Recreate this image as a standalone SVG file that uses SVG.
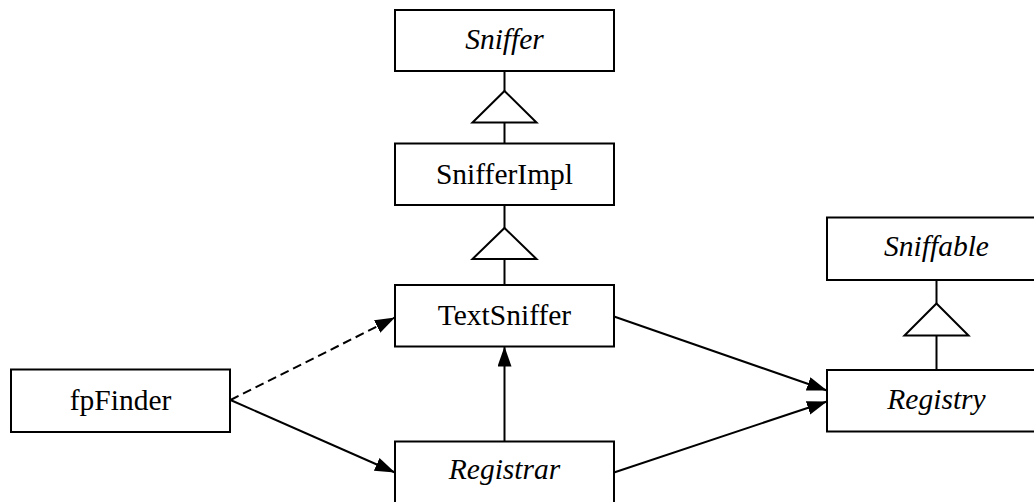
<svg xmlns="http://www.w3.org/2000/svg" width="1034" height="502" viewBox="0 0 1034 502">
  <style>
    .box { fill: #ffffff; stroke: #000000; stroke-width: 2; }
    .lbl { font-family: "Liberation Serif", "Times New Roman", serif; font-size: 29.5px; fill: #000000; text-anchor: middle; }
    .abs { font-style: italic; }
    .edge { fill: none; stroke: #000000; stroke-width: 2; }
    .dash { stroke-dasharray: 9 5; }
    .gen { fill: #ffffff; stroke: #000000; stroke-width: 2; stroke-linejoin: miter; }
  </style>
  <defs>
    <marker id="arrow" markerUnits="userSpaceOnUse" markerWidth="22" markerHeight="16" refX="20" refY="7" orient="auto">
      <path d="M0,0 L20,7 L0,14 Z" fill="#000000"/>
    </marker>
  </defs>

  <rect width="1034" height="502" fill="#ffffff"/>

  <!-- connectors -->
  <g id="connectors">
    <!-- generalisation: SnifferImpl -> Sniffer -->
    <line class="edge" x1="504.5" y1="71" x2="504.5" y2="91"/>
    <line class="edge" x1="504.5" y1="122.5" x2="504.5" y2="143.5"/>
    <polygon class="gen" points="504.5,91 536.5,122.5 472.5,122.5"/>
    <!-- generalisation: TextSniffer -> SnifferImpl -->
    <line class="edge" x1="504.5" y1="205" x2="504.5" y2="228"/>
    <line class="edge" x1="504.5" y1="259" x2="504.5" y2="285"/>
    <polygon class="gen" points="504.5,228 536.5,259 472.5,259"/>
    <!-- generalisation: Registry -> Sniffable -->
    <line class="edge" x1="936.5" y1="280" x2="936.5" y2="303.5"/>
    <line class="edge" x1="936.5" y1="335.5" x2="936.5" y2="370"/>
    <polygon class="gen" points="936.5,303.5 968.5,335.5 904.5,335.5"/>
    <!-- associations -->
    <line class="edge dash" x1="230.5" y1="400" x2="395" y2="317.5" marker-end="url(#arrow)"/>
    <line class="edge" x1="230.5" y1="400" x2="395" y2="472.5" marker-end="url(#arrow)"/>
    <line class="edge" x1="504.5" y1="441.5" x2="504.5" y2="346.5" marker-end="url(#arrow)"/>
    <line class="edge" x1="614" y1="316.5" x2="827" y2="390.5" marker-end="url(#arrow)"/>
    <line class="edge" x1="614" y1="472.5" x2="827" y2="401.5" marker-end="url(#arrow)"/>
  </g>

  <g id="node-sniffer">
    <rect class="box" x="395" y="10" width="219" height="61"/>
    <text class="lbl abs" x="504.5" y="49">Sniffer</text>
  </g>
  <g id="node-snifferimpl">
    <rect class="box" x="395" y="143.5" width="219" height="61.5"/>
    <text class="lbl" x="504.5" y="183.5">SnifferImpl</text>
  </g>
  <g id="node-textsniffer">
    <rect class="box" x="395" y="285" width="219" height="61.5"/>
    <text class="lbl" x="504.5" y="325">TextSniffer</text>
  </g>
  <g id="node-registrar">
    <rect class="box" x="395" y="441.5" width="219" height="62"/>
    <text class="lbl abs" x="504.5" y="479">Registrar</text>
  </g>
  <g id="node-fpfinder">
    <rect class="box" x="11" y="369.5" width="219" height="62.5"/>
    <text class="lbl" x="120.5" y="409.5">fpFinder</text>
  </g>
  <g id="node-sniffable">
    <rect class="box" x="827" y="217.5" width="219" height="62.5"/>
    <text class="lbl abs" x="936.5" y="256">Sniffable</text>
  </g>
  <g id="node-registry">
    <rect class="box" x="827" y="370" width="219" height="61.5"/>
    <text class="lbl abs" x="936.5" y="409">Registry</text>
  </g>
</svg>
